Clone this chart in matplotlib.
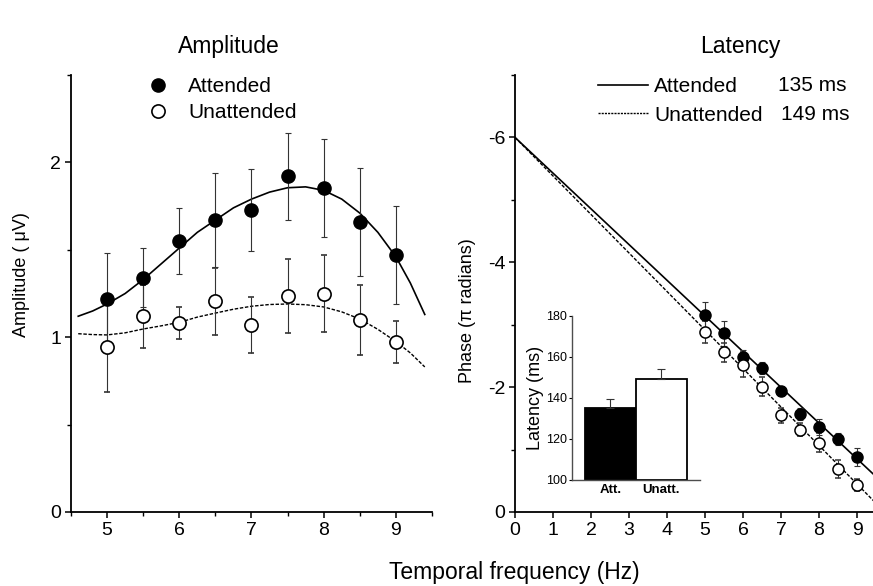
import numpy as np
import matplotlib
matplotlib.use("Agg")
import matplotlib.pyplot as plt
from matplotlib.lines import Line2D
from matplotlib.ticker import MultipleLocator

plt.rcParams['font.family'] = ['Liberation Sans', 'DejaVu Sans']
plt.rcParams['axes.unicode_minus'] = False

# amplitude panel
freq = [5, 5.5, 6, 6.5, 7, 7.5, 8, 8.5, 9]
amp_att = [1.22, 1.34, 1.55, 1.67, 1.73, 1.92, 1.855, 1.66, 1.47]
amp_att_err = [0.26, 0.17, 0.19, 0.27, 0.235, 0.25, 0.28, 0.31, 0.28]
amp_un = [0.945, 1.12, 1.08, 1.205, 1.07, 1.235, 1.25, 1.10, 0.97]
amp_un_err = [0.26, 0.18, 0.09, 0.19, 0.16, 0.21, 0.22, 0.2, 0.12]

curve_x = [4.6, 4.8, 5.0, 5.25, 5.5, 5.75, 6.0, 6.25, 6.5, 6.75, 7.0, 7.25,
           7.5, 7.75, 8.0, 8.25, 8.5, 8.75, 9.0, 9.2, 9.4]
curve_att = [1.12, 1.15, 1.19, 1.25, 1.33, 1.42, 1.51, 1.60, 1.67, 1.74, 1.79,
             1.83, 1.855, 1.86, 1.84, 1.79, 1.71, 1.60, 1.46, 1.31, 1.13]
curve_un = [1.02, 1.015, 1.013, 1.025, 1.047, 1.065, 1.085, 1.115, 1.138, 1.16,
            1.177, 1.187, 1.19, 1.186, 1.173, 1.145, 1.104, 1.045, 0.975, 0.91, 0.83]

# phase panel
ph_att = [-3.16, -2.86, -2.48, -2.31, -1.94, -1.57, -1.36, -1.17, -0.88]
ph_att_err = [0.2, 0.2, 0.12, 0.1, 0.08, 0.1, 0.13, 0.1, 0.15]
ph_un = [-2.88, -2.56, -2.36, -2.01, -1.55, -1.32, -1.11, -0.69, -0.43]
ph_un_err = [0.18, 0.15, 0.2, 0.15, 0.12, 0.1, 0.15, 0.15, 0.1]
fit_x = [0, 9.5]
fit_att = [-6.0, -0.566]
fit_un = [-6.0, -0.139]

# inset
lat_labels = ['Att.', 'Unatt.']
lat_vals = [135, 149.3]
lat_err = [4.6, 5.0]

fig = plt.figure(figsize=(8.73, 5.86), dpi=100)

# ---------- left: amplitude ----------
ax1 = fig.add_axes([71/873, 1-512/586, 361/873, 437/586])
ax1.plot(curve_x, curve_att, color='k', lw=1.2)
ax1.plot(curve_x, curve_un, color='k', lw=1.0, ls=(0, (2.5, 1.2)))
ax1.errorbar(freq, amp_att, yerr=amp_att_err, fmt='o', color='k', ms=9.5,
             ecolor='0.2', elinewidth=0.8, capsize=2.5, capthick=0.8,
             label='Attended', zorder=3)
ax1.errorbar(freq, amp_un, yerr=amp_un_err, fmt='o', mfc='white', mec='k',
             mew=1.2, ms=9.5, ecolor='0.2', elinewidth=0.8, capsize=2.5,
             capthick=0.8, label='Unattended', zorder=3)
ax1.set_xlim(4.5, 9.5)
ax1.set_ylim(0, 2.5)
ax1.xaxis.set_major_locator(MultipleLocator(1))
ax1.xaxis.set_minor_locator(MultipleLocator(0.5))
ax1.yaxis.set_major_locator(MultipleLocator(1))
ax1.yaxis.set_minor_locator(MultipleLocator(0.5))
h, l = ax1.get_legend_handles_labels()
h = [hh[0] for hh in h]
ax1.legend(h, l, loc='upper left', bbox_to_anchor=(0.215, 0.995), frameon=False,
           fontsize=15, handlelength=0.9, handletextpad=1.0, borderpad=0,
           borderaxespad=0, labelspacing=0.35, numpoints=1)

# ---------- right: phase ----------
ax2 = fig.add_axes([515/873, 1-512/586, 358/873, 437/586])
ax2.plot(fit_x, fit_att, color='k', lw=1.2)
ax2.plot(fit_x, fit_un, color='k', lw=1.0, ls=(0, (2.5, 1.2)))
ax2.errorbar(freq, ph_att, yerr=ph_att_err, fmt='o', color='k', ms=8,
             ecolor='0.2', elinewidth=0.8, capsize=2.2, capthick=0.8, zorder=3)
ax2.errorbar(freq, ph_un, yerr=ph_un_err, fmt='o', mfc='white', mec='k',
             mew=1.1, ms=8, ecolor='0.2', elinewidth=0.8, capsize=2.2,
             capthick=0.8, zorder=3)
ax2.set_xlim(0, 9.42)
ax2.set_ylim(0, -7.0)
ax2.xaxis.set_major_locator(MultipleLocator(1))
ax2.yaxis.set_major_locator(MultipleLocator(2))
ax2.yaxis.set_minor_locator(MultipleLocator(1))
leg_handles = [Line2D([], [], color='k', lw=1.2),
               Line2D([], [], color='k', lw=1.0, ls=(0, (1.5, 0.8)))]
ax2.legend(leg_handles, ['Attended', 'Unattended'], loc='upper left',
           bbox_to_anchor=(0.232, 0.995), frameon=False, fontsize=15,
           handlelength=2.4, handletextpad=0.3, borderpad=0, borderaxespad=0,
           labelspacing=0.45)
ax2.text(0.735, 0.977, '135 ms', transform=ax2.transAxes, fontsize=15,
         va='center', ha='left')
ax2.text(0.742, 0.909, '149 ms', transform=ax2.transAxes, fontsize=15,
         va='center', ha='left')

for ax in (ax1, ax2):
    for s in ('top', 'right'):
        ax.spines[s].set_visible(False)
    for s in ('left', 'bottom'):
        ax.spines[s].set_linewidth(1.3)
    ax.tick_params(which='major', direction='out', length=4, width=1.1,
                   labelsize=14, pad=3)
    ax.tick_params(which='minor', direction='out', length=3, width=1.0)

# ---------- inset: latency bars ----------
axi = fig.add_axes([571.7/873, 1-480/586, 128/873, 164/586])
axi.set_facecolor('none')
axi.bar([0, 1], [v - 100 for v in lat_vals], bottom=100, width=1.0,
        color=['black', 'white'], edgecolor='black', linewidth=1.3,
        yerr=[[0, 0], lat_err], error_kw=dict(ecolor='0.2', elinewidth=0.8,
                                              capsize=3, capthick=0.8))
axi.set_xlim(-0.76, 1.75)
axi.set_ylim(100, 180)
axi.set_yticks([100, 120, 140, 160, 180])
axi.set_xticks([0, 1])
axi.set_xticklabels(lat_labels, fontweight='bold', fontsize=9.5)
axi.tick_params(axis='x', length=0, pad=3)
axi.tick_params(axis='y', direction='out', length=2.5, width=0.8,
                labelsize=9, pad=1)
axi.set_ylabel('Latency (ms)', fontsize=13, labelpad=1)
for s in ('top', 'right'):
    axi.spines[s].set_visible(False)
for s in ('left', 'bottom'):
    axi.spines[s].set_linewidth(1.0)
    axi.spines[s].set_color('0.3')

# ---------- texts ----------
fig.text(229/873, 1-47/586, 'Amplitude', ha='center', va='center', fontsize=16.5)
fig.text(740/873, 1-47/586, 'Latency', ha='center', va='center', fontsize=16.5)
fig.text(514/873, 1-573/586, 'Temporal frequency (Hz)', ha='center',
         va='center', fontsize=16.5)
fig.text(22/873, 1-275/586, 'Amplitude ( \u03bcV)', rotation=90, ha='center',
         va='center', fontsize=13)
fig.text(468/873, 1-311/586, 'Phase (\u03c0 radians)', rotation=90,
         ha='center', va='center', fontsize=13)

fig.savefig('out.png', dpi=100)
